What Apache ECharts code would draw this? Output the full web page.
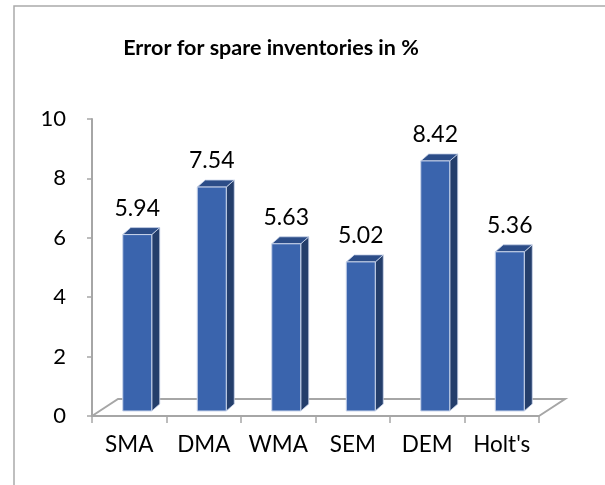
<!DOCTYPE html>
<html>
<head>
<meta charset="utf-8">
<script src="https://cdn.jsdelivr.net/npm/echarts@6/dist/echarts.min.js"></script>
<style>
html,body{margin:0;padding:0;background:#fff;}
#chart{width:605px;height:485px;}
</style>
</head>
<body>
<div id="chart"></div>
<script>
const titleText = "Error for spare inventories in %";
const categories = ["SMA", "DMA", "WMA", "SEM", "DEM", "Holt's"];
const errorValues = [5.94, 7.54, 5.63, 5.02, 8.42, 5.36];
const yTicks = [0, 2, 4, 6, 8, 10];

const FONT = "Lato, 'Open Sans', sans-serif";
const chart = echarts.init(document.getElementById('chart'), null, {renderer: 'canvas'});

const floorDX = 26, floorDY = -17;

const option = {
  animation: false,
  backgroundColor: '#ffffff',
  title: {
    text: titleText,
    left: 266, top: 32, textAlign: 'center',
    textStyle: {fontFamily: FONT, fontWeight: 'bold', fontSize: 21.5, color: '#000'}
  },
  graphic: [
    {type: 'polyline', shape: {points: [[14, 485], [14, 6], [605, 6]]},
     style: {stroke: '#ababab', lineWidth: 1.5, fill: null}, silent: true}
  ],
  grid: {left: 92, right: 66, top: 119, bottom: 69, containLabel: false},
  xAxis: {
    type: 'category',
    data: categories,
    boundaryGap: true,
    axisLine: {lineStyle: {color: '#a6a6a6', width: 2}},
    axisTick: {show: true, interval: 0, length: 7, lineStyle: {color: '#a6a6a6', width: 1.5}},
    axisLabel: {interval: 0, hideOverlap: false, margin: 17, fontFamily: FONT, fontSize: 22.5, color: '#000'},
    splitLine: {show: false}
  },
  yAxis: {
    type: 'value',
    min: yTicks[0], max: yTicks[yTicks.length - 1], interval: 2,
    axisLine: {show: true, lineStyle: {color: '#a6a6a6', width: 2}},
    axisTick: {show: true, length: 5, lineStyle: {color: '#a6a6a6', width: 1.5}},
    axisLabel: {margin: 26, fontFamily: FONT, fontSize: 22, color: '#000'},
    splitLine: {show: false}
  },
  series: [
    {
      type: 'custom',
      name: 'floor',
      z: 1,
      silent: true,
      data: [[0, 0]],
      renderItem: function (params, api) {
        const band = api.size([1, 0])[0];
        const c0 = api.coord([0, 0]);
        const left = c0[0] - band / 2;
        const right = left + band * categories.length;
        const y0 = c0[1];
        return {
          type: 'group',
          children: [
            {type: 'polyline', shape: {points: [[left, y0], [left + floorDX, y0 + floorDY], [right + floorDX, y0 + floorDY], [right, y0]]},
             style: {stroke: '#a6a6a6', lineWidth: 2, fill: null}}
          ]
        };
      }
    },
    {
      type: 'custom',
      name: 'Error',
      z: 5,
      data: errorValues.map((v, i) => [i, v]),
      encode: {x: 0, y: 1},
      renderItem: function (params, api) {
        const i = api.value(0), v = api.value(1);
        const base = api.coord([i, 0]);
        const top = api.coord([i, v]);
        const w = 29, ox = 8, oy = -5, dx = 8, dy = -7;
        const x0 = base[0] + ox - w / 2, x1 = x0 + w;
        const yb = base[1] + oy, yt = top[1] + oy;
        return {
          type: 'group',
          children: [
            {type: 'polygon', shape: {points: [[x1, yt], [x1 + dx, yt + dy], [x1 + dx, yb + dy], [x1, yb]]},
             style: {fill: '#243e6b', stroke: '#c9d4ea', lineWidth: 0.8}},
            {type: 'polygon', shape: {points: [[x0, yt], [x0 + dx, yt + dy], [x1 + dx, yt + dy], [x1, yt]]},
             style: {fill: '#2c4d88', stroke: '#c9d4ea', lineWidth: 0.8}},
            {type: 'rect', shape: {x: x0, y: yt, width: w, height: yb - yt},
             style: {fill: '#3a64ad', stroke: '#c9d4ea', lineWidth: 1}},
            {type: 'text', style: {text: v.toFixed(2), x: x0 + w / 2, y: yt - 26,
              align: 'center', verticalAlign: 'middle',
              font: '23px ' + FONT, fill: '#000'}}
          ]
        };
      }
    }
  ]
};
chart.setOption(option);
</script>
</body>
</html>
